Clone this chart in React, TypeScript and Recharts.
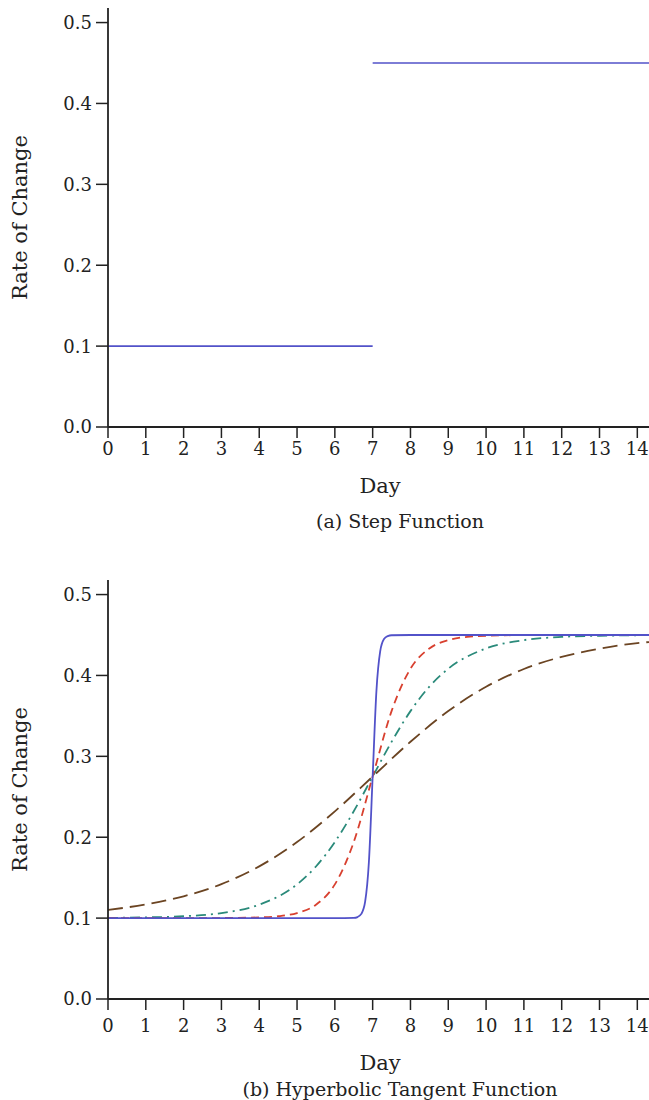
import React from 'react';
import { LineChart, Line, XAxis, YAxis } from 'recharts';

const dayTicks = [0, 1, 2, 3, 4, 5, 6, 7, 8, 9, 10, 11, 12, 13, 14];
const rateTicks = [0, 0.1, 0.2, 0.3, 0.4, 0.5];

// (a) Step function
const stepLow = [
  { day: 0, rate: 0.1 },
  { day: 7, rate: 0.1 },
];
const stepHigh = [
  { day: 7, rate: 0.45 },
  { day: 14.6, rate: 0.45 },
];

// (b) Hyperbolic tangent curves
const tanhSteep = [
  { day: 0, rate: 0.1 }, { day: 2, rate: 0.1 }, { day: 4, rate: 0.1 }, { day: 6, rate: 0.1 },
  { day: 6.5, rate: 0.1003 }, { day: 6.6, rate: 0.1013 }, { day: 6.7, rate: 0.1052 },
  { day: 6.8, rate: 0.12 }, { day: 6.9, rate: 0.169 }, { day: 7, rate: 0.275 },
  { day: 7.1, rate: 0.381 }, { day: 7.2, rate: 0.43 }, { day: 7.3, rate: 0.445 },
  { day: 7.4, rate: 0.4487 }, { day: 7.5, rate: 0.4497 }, { day: 8, rate: 0.45 },
  { day: 10, rate: 0.45 }, { day: 12, rate: 0.45 }, { day: 14.6, rate: 0.45 },
];
const tanhFast = [
  { day: 0, rate: 0.1 }, { day: 1, rate: 0.1 }, { day: 2, rate: 0.1 }, { day: 3, rate: 0.1001 },
  { day: 4, rate: 0.1009 }, { day: 4.5, rate: 0.1023 }, { day: 5, rate: 0.1063 },
  { day: 5.5, rate: 0.1166 }, { day: 6, rate: 0.1417 }, { day: 6.5, rate: 0.1941 },
  { day: 7, rate: 0.275 }, { day: 7.5, rate: 0.3559 }, { day: 8, rate: 0.4083 },
  { day: 8.5, rate: 0.4334 }, { day: 9, rate: 0.4437 }, { day: 9.5, rate: 0.4477 },
  { day: 10, rate: 0.4491 }, { day: 11, rate: 0.4499 }, { day: 12, rate: 0.45 },
  { day: 14.6, rate: 0.45 },
];
const tanhMedium = [
  { day: 0, rate: 0.1003 }, { day: 1, rate: 0.1009 }, { day: 2, rate: 0.1023 },
  { day: 3, rate: 0.1063 }, { day: 4, rate: 0.1166 }, { day: 5, rate: 0.1417 },
  { day: 5.5, rate: 0.1638 }, { day: 6, rate: 0.1941 }, { day: 6.5, rate: 0.2321 },
  { day: 7, rate: 0.275 }, { day: 7.5, rate: 0.3179 }, { day: 8, rate: 0.3559 },
  { day: 8.5, rate: 0.3862 }, { day: 9, rate: 0.4083 }, { day: 10, rate: 0.4334 },
  { day: 11, rate: 0.4437 }, { day: 12, rate: 0.4477 }, { day: 13, rate: 0.4491 },
  { day: 14, rate: 0.4497 }, { day: 14.6, rate: 0.4498 },
];
const tanhSlow = [
  { day: 0, rate: 0.11 }, { day: 1, rate: 0.117 }, { day: 2, rate: 0.127 },
  { day: 3, rate: 0.142 }, { day: 4, rate: 0.164 }, { day: 5, rate: 0.194 },
  { day: 6, rate: 0.232 }, { day: 7, rate: 0.275 }, { day: 8, rate: 0.318 },
  { day: 9, rate: 0.356 }, { day: 10, rate: 0.386 }, { day: 11, rate: 0.408 },
  { day: 12, rate: 0.423 }, { day: 13, rate: 0.433 }, { day: 14, rate: 0.44 },
  { day: 14.6, rate: 0.4423 },
];

const FONT = 'DejaVu Serif';
const INK = '#222';
const tickStyle = { fontFamily: FONT, fontSize: 18, fill: INK };

type Series = { data: { day: number; rate: number }[]; color: string; dash?: string; width?: number };

function Panel({ top, series, extra = 0 }: { top: number; series: Series[]; extra?: number }) {
  const H = 560;
  const xAxisH = 30;
  const plotBottom = 427;
  return (
    <div style={{ position: 'absolute', left: 0, top, width: 700, height: H }}>
      <LineChart width={700} height={H} margin={{ top: 8, right: 40, left: 0, bottom: H - plotBottom - xAxisH }}>
        <XAxis
          xAxisId="main"
          dataKey="day"
          type="number"
          domain={[0, 14.6]}
          ticks={dayTicks}
          allowDataOverflow
          interval={0}
          height={xAxisH}
          tickSize={11}
          tickMargin={4 + extra}
          tick={tickStyle}
          axisLine={{ stroke: INK, strokeWidth: 1.8 }}
          tickLine={{ stroke: INK, strokeWidth: 1.5 }}
          label={{ value: 'Day', position: 'bottom', offset: 21 + extra, dx: -4, style: { fontFamily: FONT, fontSize: 21, fill: INK } }}
        />
        <XAxis
          xAxisId="frame"
          orientation="top"
          type="number"
          dataKey="day"
          domain={[0, 14.6]}
          height={0}
          tick={false}
          tickLine={false}
          axisLine={{ stroke: INK, strokeWidth: 2 }}
        />
        <YAxis
          type="number"
          domain={[0, 0.518]}
          ticks={rateTicks}
          allowDataOverflow
          width={108}
          tickSize={12}
          tickMargin={4}
          tick={tickStyle}
          tickFormatter={(v: number) => v.toFixed(1)}
          axisLine={{ stroke: INK, strokeWidth: 1.8 }}
          tickLine={{ stroke: INK, strokeWidth: 1.5 }}
          label={{ value: 'Rate of Change', angle: -90, position: 'insideLeft', offset: 20, style: { fontFamily: FONT, fontSize: 21, fill: INK, textAnchor: 'middle' } }}
        />
        {series.map((s, i) => (
          <Line
            key={i}
            xAxisId="main"
            data={s.data}
            dataKey="rate"
            type="monotone"
            stroke={s.color}
            strokeWidth={s.width ?? 1.8}
            strokeDasharray={s.dash}
            dot={false}
            activeDot={false}
            isAnimationActive={false}
          />
        ))}
      </LineChart>
    </div>
  );
}

const BLUE = '#5252c9';

export default function App() {
  const captionStyle: React.CSSProperties = {
    position: 'absolute', left: 100, width: 600, textAlign: 'center',
    fontFamily: FONT, fontSize: 19, color: INK, lineHeight: '24px', whiteSpace: 'nowrap',
  };
  return (
    <div style={{ position: 'absolute', left: 0, top: 0, width: 649, height: 1100, overflow: 'hidden', background: '#fff' }}>
      <Panel
        top={0}
        series={[
          { data: stepLow, color: BLUE, width: 1.6 },
          { data: stepHigh, color: BLUE, width: 1.6 },
        ]}
      />
      <div style={{ ...captionStyle, top: 509 }}>(a) Step Function</div>
      <Panel
        top={572}
        extra={5}
        series={[
          { data: tanhSlow, color: '#6b4422', dash: '15 7' },
          { data: tanhMedium, color: '#2a8a7a', dash: '10 5 2 5' },
          { data: tanhFast, color: '#d8402f', dash: '8 5' },
          { data: tanhSteep, color: BLUE },
        ]}
      />
      <div style={{ ...captionStyle, top: 1077 }}>(b) Hyperbolic Tangent Function</div>
    </div>
  );
}
